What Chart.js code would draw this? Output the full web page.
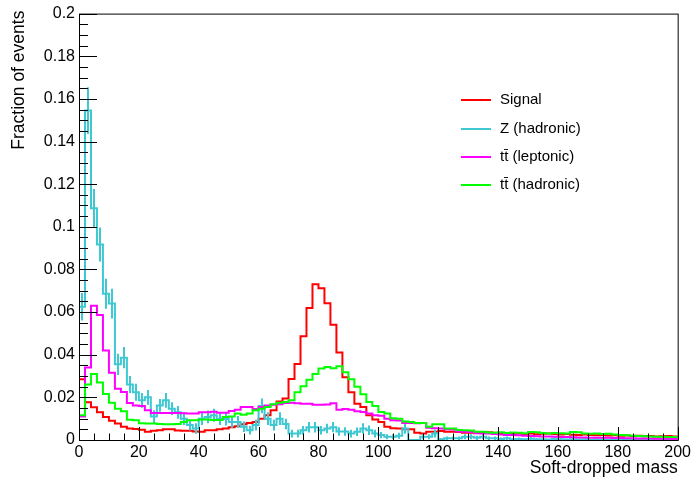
<!DOCTYPE html>
<html>
<head>
<meta charset="utf-8">
<script src="https://cdn.jsdelivr.net/npm/chart.js@4/dist/chart.umd.min.js"></script>
<style>
  html, body { margin: 0; padding: 0; background: #fff; }
</style>
</head>
<body>
<canvas id="histo" width="694" height="483"></canvas>
<script>
// 100 bins of width 2 from 0 to 200
const binWidth = 2;
const nBins = 100;

const signal = [
  0.0285, 0.0177, 0.0154, 0.013, 0.0108, 0.009, 0.0077, 0.0062, 0.0054, 0.0052,
  0.0048, 0.0039, 0.0043, 0.0046, 0.005, 0.005, 0.0044, 0.0043, 0.0043, 0.004,
  0.0039, 0.0046, 0.0046, 0.005, 0.0054, 0.006, 0.0065, 0.0074, 0.008, 0.0085,
  0.01, 0.0116, 0.014, 0.018, 0.0195, 0.0286, 0.0356, 0.0487, 0.0619, 0.073,
  0.0712, 0.0642, 0.054, 0.041, 0.0294, 0.0224, 0.017, 0.0155, 0.0116, 0.0096,
  0.0085, 0.0062, 0.0055, 0.0054, 0.005, 0.005, 0.0034, 0.0031, 0.0039, 0.0039,
  0.0042, 0.0039, 0.0039, 0.0038, 0.0034, 0.0034, 0.0037, 0.0038, 0.0036, 0.0034,
  0.0032, 0.003, 0.0029, 0.0031, 0.0028, 0.003, 0.0027, 0.0029, 0.0031, 0.0028,
  0.0026, 0.0028, 0.0025, 0.0024, 0.0026, 0.0023, 0.0022, 0.0024, 0.0021, 0.0022,
  0.002, 0.0021, 0.0019, 0.002, 0.0018, 0.0019, 0.0017, 0.0018, 0.0019, 0.0017
];

const zHadronic = [
  0.0625, 0.1545, 0.1087, 0.0917, 0.0686, 0.064, 0.0355, 0.0386, 0.026, 0.0224,
  0.0186, 0.02, 0.011, 0.0162, 0.0186, 0.0147, 0.013, 0.01, 0.007, 0.0054,
  0.01, 0.0108, 0.0116, 0.01, 0.0098, 0.0085, 0.0085, 0.0062, 0.0046, 0.007,
  0.016, 0.01, 0.007, 0.01, 0.0075, 0.003, 0.003, 0.0046, 0.006, 0.006,
  0.0046, 0.0054, 0.006, 0.004, 0.004, 0.003, 0.0039, 0.0054, 0.0046, 0.003,
  0.0023, 0.0015, 0.0015, 0.002, 0.0054, 0.0, 0.0, 0.0015, 0.0015, 0.003,
  0.0003, 0.0008, 0.0008, 0.0008, 0.0015, 0.0015, 0.001, 0.0015, 0.0008, 0.0008,
  0.0005, 0.0008, 0.0003, 0.0005, 0.0003, 0.0006, 0.0003, 0.0004, 0.0002, 0.0005,
  0.0003, 0.0002, 0.0004, 0.0002, 0.0003, 0.0001, 0.0003, 0.0002, 0.0001, 0.0002,
  0.0001, 0.0002, 0.0001, 0.0001, 0.0002, 0.0001, 0.0, 0.0001, 0.0001, 0.0
];

const zErrors = [
  0.0065, 0.011, 0.009, 0.008, 0.007, 0.007, 0.005, 0.005, 0.004, 0.004,
  0.0035, 0.0035, 0.003, 0.003, 0.0035, 0.003, 0.003, 0.003, 0.0025, 0.0025,
  0.003, 0.003, 0.003, 0.003, 0.003, 0.0028, 0.0028, 0.0025, 0.002, 0.0025,
  0.0035, 0.003, 0.0025, 0.003, 0.0025, 0.0018, 0.0018, 0.002, 0.0025, 0.0025,
  0.002, 0.0022, 0.0024, 0.002, 0.002, 0.0018, 0.002, 0.0024, 0.0022, 0.0018,
  0.0015, 0.0012, 0.0012, 0.0014, 0.0025, 0.0, 0.0, 0.0012, 0.0012, 0.0018,
  0.0005, 0.0009, 0.0009, 0.0009, 0.0012, 0.0012, 0.001, 0.0012, 0.0009, 0.0009,
  0.0007, 0.0009, 0.0005, 0.0007, 0.0005, 0.0008, 0.0005, 0.0006, 0.0004, 0.0007,
  0.0005, 0.0004, 0.0006, 0.0004, 0.0005, 0.0003, 0.0005, 0.0004, 0.0003, 0.0004,
  0.0003, 0.0004, 0.0003, 0.0003, 0.0004, 0.0003, 0.0, 0.0003, 0.0003, 0.0
];

const ttLeptonic = [
  0.011, 0.034, 0.063, 0.0586, 0.042, 0.0316, 0.024, 0.0225, 0.0173, 0.0162,
  0.016, 0.0139, 0.0127, 0.0127, 0.0127, 0.0127, 0.0127, 0.0125, 0.0124, 0.0124,
  0.013, 0.013, 0.0133, 0.0128, 0.0128, 0.0136, 0.0142, 0.0155, 0.0155, 0.0145,
  0.0155, 0.0162, 0.0165, 0.0168, 0.0173, 0.0175, 0.0172, 0.017, 0.017, 0.0165,
  0.0165, 0.0167, 0.0172, 0.0142, 0.0145, 0.0142, 0.0135, 0.0131, 0.0124, 0.0116,
  0.0114, 0.01, 0.0093, 0.0092, 0.008, 0.008, 0.0079, 0.008, 0.0058, 0.0055,
  0.0054, 0.005, 0.0049, 0.004, 0.0039, 0.0038, 0.0032, 0.0031, 0.003, 0.0028,
  0.0026, 0.0024, 0.0023, 0.0022, 0.002, 0.0019, 0.0018, 0.0017, 0.0016, 0.0015,
  0.0014, 0.0014, 0.0013, 0.0012, 0.0012, 0.0011, 0.001, 0.001, 0.001, 0.0009,
  0.0009, 0.0008, 0.0008, 0.0007, 0.0007, 0.0007, 0.0006, 0.0006, 0.0006, 0.0005
];

const ttHadronic = [
  0.0116, 0.026, 0.031, 0.027, 0.0216, 0.0175, 0.0146, 0.0135, 0.0095, 0.0093,
  0.0078, 0.0077, 0.0077, 0.0075, 0.0074, 0.0074, 0.0075, 0.0085, 0.0093, 0.0093,
  0.0096, 0.0096, 0.0094, 0.0094, 0.0108, 0.011, 0.0124, 0.0118, 0.0124, 0.0139,
  0.0147, 0.0155, 0.0168, 0.0175, 0.0178, 0.0186, 0.0224, 0.0252, 0.0283, 0.031,
  0.0335, 0.0342, 0.0336, 0.0346, 0.0318, 0.0285, 0.025, 0.0215, 0.0178, 0.016,
  0.0131, 0.0124, 0.0102, 0.01, 0.0087, 0.0085, 0.008, 0.008, 0.0062, 0.0074,
  0.0074, 0.0054, 0.0054, 0.0047, 0.0046, 0.0045, 0.0039, 0.0039, 0.0035, 0.0034,
  0.0036, 0.0033, 0.0035, 0.0034, 0.0032, 0.0038, 0.0036, 0.0033, 0.0031, 0.0033,
  0.0032, 0.003, 0.0037, 0.0036, 0.0031, 0.0029, 0.003, 0.0028, 0.0029, 0.0026,
  0.0024, 0.0022, 0.002, 0.0019, 0.0018, 0.0016, 0.0015, 0.0015, 0.0014, 0.0014
];

const seriesNames = ["Signal", "Z (hadronic)", "tt\u0304 (leptonic)", "tt\u0304 (hadronic)"];
const seriesColors = ["#ff0000", "#3ec8d2", "#ff00ff", "#00ff00"];

const yTickMax = 0.2;
const xTickMax = 200;

// histogram outline: one point per low bin edge, plus the last upper edge
function toSteps(values) {
  const pts = values.map((v, i) => ({ x: i * binWidth, y: v }));
  pts.push({ x: nBins * binWidth, y: values[values.length - 1] });
  return pts;
}

function makeSet(i, values, errors, order) {
  return {
    label: seriesNames[i],
    data: toSteps(values),
    values: values,
    errors: errors,
    borderColor: seriesColors[i],
    borderWidth: 2,
    stepped: "before",
    pointRadius: 0,
    fill: false,
    order: order,
  };
}

const fontFamily = "'Liberation Sans', Arial, sans-serif";

// ROOT-like decorations: error bars, frame, inward ticks, titles, legend
const rootLook = {
  id: "rootLook",
  afterDatasetDraw(chart, args) {
    const ds = chart.data.datasets[args.index];
    if (!ds.errors) return;
    const { ctx, scales: { x, y } } = chart;
    ctx.save();
    ctx.strokeStyle = ds.borderColor;
    ctx.lineWidth = 2;
    ds.errors.forEach((e, k) => {
      if (!e) return;
      const px = Math.round(x.getPixelForValue((k + 0.5) * binWidth));
      const v = ds.values[k];
      ctx.beginPath();
      ctx.moveTo(px, y.getPixelForValue(Math.max(v - e, 0)));
      ctx.lineTo(px, y.getPixelForValue(v + e));
      ctx.stroke();
    });
    ctx.restore();
  },
  afterDraw(chart) {
    const { ctx, chartArea: a, scales: { x, y } } = chart;
    ctx.save();
    ctx.strokeStyle = "#000";
    ctx.lineWidth = 1;
    ctx.strokeRect(a.left + 0.5, a.top + 0.5, a.right - a.left, a.bottom - a.top);

    // x ticks: major every 20, minor every 5
    ctx.beginPath();
    for (let v = 0; v <= xTickMax; v += 5) {
      const px = Math.round(x.getPixelForValue(v)) + 0.5;
      const len = v % 20 === 0 ? 13 : 6.5;
      ctx.moveTo(px, a.bottom);
      ctx.lineTo(px, a.bottom - len);
    }
    // y ticks: major every 0.02, minor every 0.005
    for (let i = 0; i <= 40; i++) {
      const v = i * 0.005;
      const py = Math.round(y.getPixelForValue(v)) + 0.5;
      const len = i % 4 === 0 ? 18 : 9;
      ctx.moveTo(a.left, py);
      ctx.lineTo(a.left + len, py);
    }
    ctx.stroke();

    // axis titles
    ctx.fillStyle = "#000";
    ctx.font = "17.5px " + fontFamily;
    ctx.textAlign = "right";
    ctx.textBaseline = "middle";
    ctx.fillText("Soft-dropped mass", a.right, 468);
    ctx.save();
    ctx.translate(19, a.top - 3);
    ctx.rotate(-Math.PI / 2);
    ctx.textAlign = "right";
    ctx.fillText("Fraction of events", 0, 0);
    ctx.restore();

    // legend
    ctx.font = "15px " + fontFamily;
    ctx.textAlign = "left";
    const rows = [100, 129, 157, 185];
    seriesNames.forEach((name, i) => {
      ctx.strokeStyle = seriesColors[i];
      ctx.lineWidth = 2;
      ctx.beginPath();
      ctx.moveTo(461, rows[i]);
      ctx.lineTo(491, rows[i]);
      ctx.stroke();
      ctx.fillStyle = "#000";
      ctx.fillText(name, 500, rows[i]);
    });
    ctx.restore();
  },
};

const ctx = document.getElementById("histo").getContext("2d");
const histo = new Chart(ctx, {
  type: "line",
  data: {
    datasets: [
      makeSet(0, signal, null, 3),
      makeSet(1, zHadronic, zErrors, 2),
      makeSet(2, ttLeptonic, null, 1),
      makeSet(3, ttHadronic, null, 0),
    ],
  },
  options: {
    responsive: false,
    animation: false,
    layout: { padding: { left: 0, top: 9, right: 14, bottom: 0 } },
    plugins: { legend: { display: false }, tooltip: { enabled: false } },
    scales: {
      x: {
        type: "linear",
        min: 0,
        max: xTickMax,
        grid: { display: false, drawTicks: false },
        border: { display: false },
        afterFit: (s) => { s.height = 43; },
        ticks: {
          stepSize: 20,
          padding: 3,
          color: "#000",
          maxRotation: 0,
          font: { family: fontFamily, size: 16 },
        },
      },
      y: {
        min: 0,
        max: yTickMax,
        grid: { display: false, drawTicks: false },
        border: { display: false },
        afterFit: (s) => { s.width = 79; },
        ticks: {
          stepSize: 0.02,
          padding: 4,
          color: "#000",
          font: { family: fontFamily, size: 16 },
          callback: (v) => String(+v.toFixed(3)),
        },
      },
    },
  },
  plugins: [rootLook],
});
</script>
</body>
</html>
